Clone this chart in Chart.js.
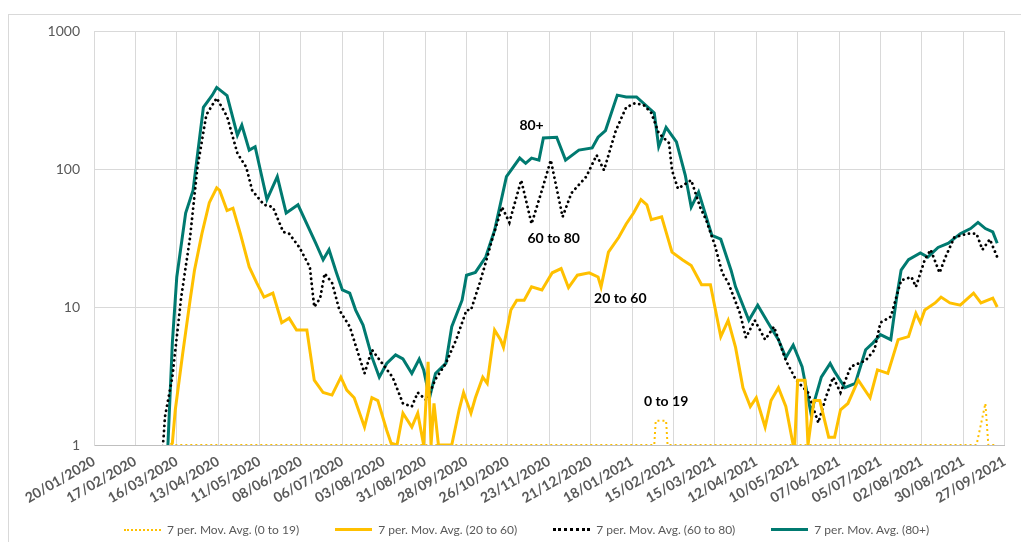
<!DOCTYPE html>
<html>
<head>
<meta charset="utf-8">
<script src="https://cdn.jsdelivr.net/npm/chart.js@4.4.0/dist/chart.umd.min.js"></script>
<style>
  body { margin: 0; background: #fff; font-family: Lato, sans-serif; }
  .frame { position: absolute; left: 8px; top: 14px; width: 1100px; height: 600px; border-top: 1px solid #d9d9d9; border-left: 1px solid #d9d9d9; }
  #myChart { position: absolute; left: 0; top: 0; }
  .legend { position: absolute; left: 124px; top: 522px; display: flex; gap: 36px; font-size: 12px; color: #595959; }
  .legend__item { display: flex; align-items: center; white-space: nowrap; }
  .legend__line { width: 37px; height: 0; margin-right: 6px; }
</style>
</head>
<body>
<div class="frame"></div>
<canvas id="myChart" width="1021" height="542"></canvas>
<div class="legend"></div>
<script>
// dates on the axis, every 28 days from 20/01/2020
const tickLabels = ['20/01/2020', '17/02/2020', '16/03/2020', '13/04/2020', '11/05/2020', '08/06/2020',
  '06/07/2020', '03/08/2020', '31/08/2020', '28/09/2020', '26/10/2020', '23/11/2020', '21/12/2020',
  '18/01/2021', '15/02/2021', '15/03/2021', '12/04/2021', '10/05/2021', '07/06/2021', '05/07/2021',
  '02/08/2021', '30/08/2021', '27/09/2021'];

// days since 20/01/2020 + 7 day moving averages
const days0to19 = [55, 379, 380, 387, 388, 597, 603, 605, 611];
const avg0to19 = [1, 1, 1.5, 1.5, 1, 1, 2, 1, 1];

const days20to60 = [52, 53, 55, 60, 65, 68, 73, 78, 83, 85, 90, 94, 99, 105, 110, 115, 121, 127, 132, 137,
  144, 149, 155, 161, 167, 171, 176, 183, 188, 192, 198, 201, 205, 209, 215, 219, 223, 226, 228, 230,
  233, 242, 247, 250, 255, 258, 263, 266, 271, 275, 277, 282, 286, 291, 296, 303, 310, 316, 321, 327,
  335, 341, 343, 348, 355, 360, 365, 370, 374, 377, 384, 391, 398, 404, 411, 417, 424, 429, 434, 439,
  444, 448, 454, 458, 463, 468, 473, 474, 476, 481, 483, 487, 491, 497, 501, 505, 510, 517, 525, 530,
  537, 544, 551, 556, 559, 562, 569, 573, 579, 586, 595, 600, 608, 611];
const avg20to60 = [1, 1.03, 1.8, 4.6, 11.2, 18.5, 34, 57, 73, 70, 50, 52, 34, 19.5, 15, 11.8, 12.6, 7.7, 8.3, 6.8,
  6.8, 2.95, 2.4, 2.3, 3.1, 2.5, 2.2, 1.35, 2.2, 2.1, 1.28, 1.03, 1, 1.7, 1.35, 1.7, 1, 4.0, 1, 2.0,
  1, 1, 1.8, 2.4, 1.7, 2.2, 3.1, 2.8, 6.8, 5.8, 5.1, 9.5, 11.2, 11.2, 14, 13.3, 17.7, 19, 13.8, 17,
  17.7, 16.5, 14, 25, 32, 40, 48, 60, 55, 43, 45, 25, 22, 20, 14.5, 14.5, 6.1, 8.0, 5.1, 2.6,
  1.9, 2.2, 1.35, 2.1, 2.6, 1.9, 1, 1, 2.95, 2.95, 1, 2.1, 2.1, 1.14, 1.14, 1.8, 2.0, 2.95, 2.2, 3.5,
  3.3, 5.8, 6.1, 9.0, 7.7, 9.5, 10.7, 11.8, 10.7, 10.3, 12.6, 10.7, 11.6, 10];

const days60to80 = [46, 47, 48, 53, 59, 65, 70, 76, 83, 90, 97, 103, 107, 115, 121, 128, 132, 139, 146, 149,
  153, 156, 161, 166, 173, 183, 188, 195, 202, 209, 215, 219, 225, 231, 238, 245, 252, 255, 261, 265,
  269, 276, 281, 289, 296, 303, 309, 317, 323, 333, 340, 345, 353, 360, 366, 372, 377, 382, 389, 391,
  395, 404, 410, 414, 420, 425, 429, 437, 441, 447, 454, 460, 468, 475, 483, 490, 495, 500, 505, 512,
  522, 528, 532, 539, 546, 553, 556, 562, 566, 572, 576, 582, 591, 597, 601, 606, 611];
const avg60to80 = [0.9, 1.1, 1.6, 3.1, 11.8, 32, 103, 247, 327, 240, 130, 103, 70, 55, 53, 35, 34, 27, 19.5, 10,
  11.6, 17.5, 15, 9.5, 7.2, 3.3, 4.9, 3.9, 3.1, 2.0, 1.9, 2.4, 2.1, 3.0, 3.9, 5.8, 9.5, 9.5, 15, 21,
  30, 53, 41, 83, 40, 70, 116, 45, 67, 88, 126, 98, 190, 280, 300, 290, 255, 182, 154, 98,
  72, 83, 53, 43, 28, 17.7, 15, 9.0, 6.0, 8.0, 5.8, 7.2, 4.1, 2.95, 2.4, 1.45, 2.2, 3.1, 2.4, 3.7,
  4.1, 4.9, 7.7, 8.5, 15.6, 16.5, 14, 22, 26, 17.7, 23, 32, 34, 34, 26, 31, 23];

const days80plus = [50, 53, 56, 62, 67, 74, 80, 83, 90, 97, 100, 105, 109, 117, 124, 130, 138, 150, 155, 159,
  164, 168, 173, 177, 182, 188, 193, 198, 204, 209, 215, 220, 223, 227, 231, 238, 242, 249, 252, 258,
  265, 271, 279, 288, 292, 296, 301, 304, 313, 319, 328, 337, 341, 346, 354, 360, 367, 379, 382, 387,
  394, 400, 404, 409, 418, 424, 431, 434, 443, 449, 456, 463, 468, 473, 479, 485, 492, 498, 501, 508,
  515, 522, 527, 532, 539, 543, 546, 551, 559, 564, 571, 578, 586, 593, 598, 603, 608, 611];
const avg80plus = [1, 5.5, 16.5, 48, 70, 280, 343, 390, 340, 176, 208, 137, 145, 60, 88, 48, 55, 29, 22, 26,
  17.7, 13.3, 12.6, 9.5, 7.4, 4.35, 3.1, 3.9, 4.5, 4.2, 3.3, 4.2, 3.5, 2.2, 3.3, 3.9, 7.2, 11.2, 17, 17.8,
  23, 36, 88, 120, 110, 120, 116, 168, 170, 116, 137, 142, 170, 190, 343, 333, 333, 255, 145, 200,
  157, 90, 53, 68, 33, 31, 18.4, 14, 8.0, 10.3, 7.7, 5.8, 4.3, 5.3, 3.7, 1.7, 3.1, 3.9, 3.4, 2.6,
  2.8, 4.9, 5.5, 6.3, 5.8, 11.8, 18.5, 22, 24.6, 23, 27, 29, 34, 37, 41, 37, 35, 29];

// text next to the lines
const lineNotes = [
  { text: '80+', day: 296, value: 208 },
  { text: '60 to 80', day: 311, value: 31.6 },
  { text: '20 to 60', day: 356, value: 11.6 },
  { text: '0 to 19', day: 387, value: 2.05 }
];

function toPoints(days, vals) {
  return days.map((d, i) => ({ x: d, y: vals[i] }));
}

const notesPlugin = {
  id: 'notes',
  afterDatasetsDraw(chart) {
    const ctx = chart.ctx;
    ctx.save();
    ctx.font = 'bold 14px Lato';
    ctx.fillStyle = '#000';
    ctx.textAlign = 'center';
    ctx.textBaseline = 'middle';
    lineNotes.forEach(n => {
      ctx.fillText(n.text, chart.scales.x.getPixelForValue(n.day), chart.scales.y.getPixelForValue(n.value));
    });
    ctx.restore();
  }
};

const ctx = document.getElementById('myChart').getContext('2d');
const chart = new Chart(ctx, {
  type: 'line',
  data: {
    datasets: [
      {
        label: '7 per. Mov. Avg. (0 to 19)',
        data: toPoints(days0to19, avg0to19),
        borderColor: '#FFC000',
        backgroundColor: '#FFC000',
        borderWidth: 2,
        borderDash: [2, 3]
      },
      {
        label: '7 per. Mov. Avg. (20 to 60)',
        data: toPoints(days20to60, avg20to60),
        borderColor: '#FFC000',
        backgroundColor: '#FFC000',
        borderWidth: 3
      },
      {
        label: '7 per. Mov. Avg. (60 to 80)',
        data: toPoints(days60to80, avg60to80),
        borderColor: '#000000',
        backgroundColor: '#000000',
        borderWidth: 2.8,
        borderDash: [0.1, 5],
        borderCapStyle: 'round'
      },
      {
        label: '7 per. Mov. Avg. (80+)',
        data: toPoints(days80plus, avg80plus),
        borderColor: '#007A70',
        backgroundColor: '#007A70',
        borderWidth: 3
      }
    ]
  },
  options: {
    responsive: false,
    animation: false,
    elements: { point: { radius: 0 }, line: { tension: 0 } },
    layout: { padding: { left: 0, top: 31, right: 15, bottom: 30 } },
    scales: {
      x: {
        type: 'linear',
        min: 0,
        max: 616,
        afterFit: s => { s.height = 67; },
        afterBuildTicks: s => { s.ticks = tickLabels.map((t, i) => ({ value: i * 28 })); },
        grid: { color: '#d9d9d9', drawTicks: false },
        border: { color: '#bfbfbf' },
        ticks: {
          autoSkip: false,
          maxRotation: 30,
          minRotation: 30,
          padding: 8,
          color: '#595959',
          font: { family: 'Lato', size: 14, weight: 'bold' },
          callback: (v, i) => tickLabels[i]
        }
      },
      y: {
        type: 'logarithmic',
        min: 1,
        max: 1000,
        afterFit: s => { s.width = 94; },
        afterBuildTicks: s => { s.ticks = [1, 10, 100, 1000].map(v => ({ value: v })); },
        grid: { color: '#d9d9d9', drawTicks: false },
        border: { color: '#d9d9d9' },
        ticks: {
          padding: 14,
          color: '#595959',
          font: { family: 'Lato', size: 14 },
          callback: v => String(v)
        }
      }
    },
    plugins: {
      legend: { display: false },
      tooltip: { enabled: false }
    }
  },
  plugins: [notesPlugin]
});

// legend below the chart
const lineStyles = ['2px dotted #FFC000', '3px solid #FFC000', '3px dotted #000000', '3px solid #007A70'];
const legendBox = document.querySelector('.legend');
chart.data.datasets.forEach((ds, i) => {
  legendBox.innerHTML += `
    <div class="legend__item">
      <span class="legend__line" style="border-top: ${lineStyles[i]}"></span>
      <span>${ds.label}</span>
    </div>
  `;
});
</script>
</body>
</html>
